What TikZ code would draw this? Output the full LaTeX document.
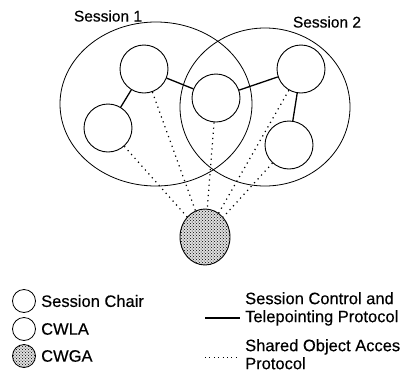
\documentclass[tikz,border=0pt]{standalone}
\usepackage{fontspec}
\setmainfont{Liberation Sans}[FakeBold=0.4]
\usetikzlibrary{patterns}
\tikzset{
  member/.style={circle, draw, line width=0.9pt, minimum size=48pt, inner sep=0pt},
  global/.style={ellipse, draw, line width=0.9pt, minimum width=50pt, minimum height=56pt, inner sep=0pt, preaction={fill=gray!25}, pattern=crosshatch dots},
  legcirc/.style={circle, draw, line width=0.8pt, minimum size=23pt, inner sep=0pt},
  legglob/.style={circle, draw, line width=0.8pt, minimum size=23pt, inner sep=0pt, preaction={fill=gray!25}, pattern=crosshatch dots},
  ctrl/.style={line width=1.3pt},
  access/.style={line width=1.2pt, dash pattern=on 1.2pt off 4pt},
  sess/.style={line width=0.8pt},
  lab/.style={font=\fontsize{15.5}{18}\selectfont, inner sep=0pt},
  legtxt/.style={font=\fontsize{16.5}{19}\selectfont, inner sep=0pt, anchor=west, align=left}
}
\usetikzlibrary{shapes.geometric}
\begin{document}
\begin{tikzpicture}[x=1pt, y=-1pt]
\useasboundingbox (0,0) rectangle (415,378);
% sessions
\draw[sess] (156,104) ellipse [x radius=96, y radius=82];
\draw[sess] (265,107) ellipse [x radius=85, y radius=79];
\node[lab] (s1) at (108,16) {Session 1};
\node[lab] (s2) at (327,22) {Session 2};
% members
\node[member] (A) at (144,69) {};
\node[member] (B) at (108,128) {};
\node[member] (C) at (216,98) {};
\node[member] (D) at (301,69) {};
\node[member] (E) at (289,145) {};
\node[global] (G) at (205,237) {};
% control links
\draw[ctrl] (A) -- (B);
\draw[ctrl] (A) -- (C);
\draw[ctrl] (C) -- (D);
\draw[ctrl] (D) -- (E);
% access links
\foreach \n in {A,B,C,D,E} \draw[access] (\n) -- (G);
% legend left
\node[legcirc] (l1) at (24,301) {};
\node[legtxt] (t1) at (41,301) {Session Chair};
\node[legcirc] (l2) at (24,329) {};
\node[legtxt] (t2) at (41,329) {CWLA};
\node[legglob] (l3) at (24,356) {};
\node[legtxt] (t3) at (41,356) {CWGA};
% legend right
\coordinate (c1) at (205,318);
\coordinate (c2) at (240,318);
\draw[ctrl] (c1) -- (c2);
\node[legtxt, anchor=north west] (t4) at (245,292) {Session Control and\\[-1pt]Telepointing Protocol};
\coordinate (c3) at (205,357);
\coordinate (c4) at (240,357);
\draw[access, line width=0.9pt, dash pattern=on 0.9pt off 3.5pt] (c3) -- (c4);
\node[legtxt, anchor=north west] (t5) at (245,339) {Shared Object Acces\\[-1pt]Protocol};
\end{tikzpicture}
\end{document}
